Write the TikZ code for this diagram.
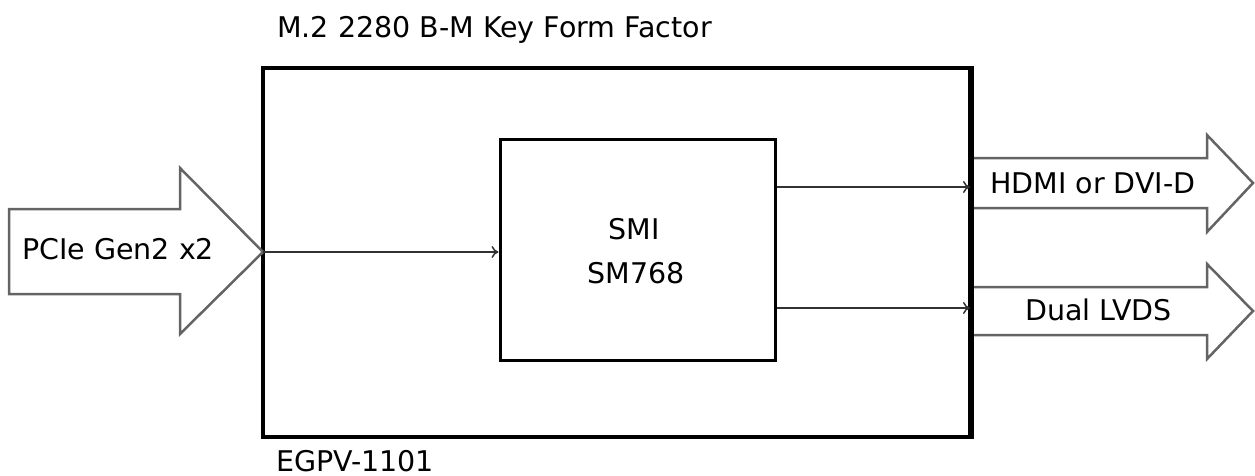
\documentclass[tikz,border=0pt]{standalone}
\usepackage{fontspec}
\setmainfont{DejaVu Sans}
\usetikzlibrary{arrows.meta}
\definecolor{arrowgray}{RGB}{100,100,100}
\definecolor{wiregray}{RGB}{50,50,50}
\begin{document}
\begin{tikzpicture}[x=1pt,y=-1pt,
  lbl/.style={inner sep=0pt,anchor=base west,font=\fontsize{28.5}{34}\selectfont},
  boxstyle/.style={draw=black,line width=3.5pt,minimum width=#1,inner sep=0pt},
  blockarrow/.style={draw=arrowgray,line width=2.5pt,fill=white,line join=miter},
  wire/.style={draw=wiregray,line width=2.5pt,-{To[length=7pt,width=12pt,line width=1.5pt]}}]
\useasboundingbox (0,0) rectangle (1255,476);
% outer board
\node[boxstyle=707pt,minimum height=369pt] (board) at (616.5,252.5) {};
% chip
\node[draw=black,line width=3pt,minimum width=275pt,minimum height=220pt,inner sep=0pt] (chip) at (637.5,250) {};
\node[inner sep=0pt,anchor=base,font=\fontsize{28.5}{34}\selectfont] (smi) at (634,239) {SMI};
\node[inner sep=0pt,anchor=base,font=\fontsize{28.5}{34}\selectfont] (sm768) at (636,283) {SM768};
% input block arrow
\draw[blockarrow] (9,209) -- (180,209) -- (180,168) -- (263,252) -- (180,334) -- (180,294) -- (9,294) -- cycle;
\coordinate (pcietip) at (263,252);
\node[lbl] (pcie) at (22,259) {PCIe Gen2 x2};
% output block arrows
\draw[blockarrow] (970,158) -- (1207,158) -- (1207,135) -- (1253,183) -- (1207,232) -- (1207,208) -- (970,208);
\coordinate (hdmitail) at (970,187);
\node[lbl] (hdmi) at (990,193) {HDMI or DVI-D};
\draw[blockarrow] (970,287) -- (1207,287) -- (1207,264) -- (1253,311) -- (1207,359) -- (1207,335) -- (970,335);
\coordinate (lvdstail) at (970,308);
\node[lbl] (lvds) at (1025,320) {Dual LVDS};
% redraw board right edge over arrow tails
\draw[black,line width=3.5pt] (board.north east) -- (board.south east);
% connectors
\draw[wire] (pcietip) -- (pcietip -| chip.west);
\draw[wire] (hdmitail -| chip.east) -- (hdmitail);
\draw[wire] (lvdstail -| chip.east) -- (lvdstail);
% labels
\node[lbl] (title) at (277,38) {M.2 2280 B-M Key Form Factor};
\node[lbl] (name) at (276,471) {EGPV-1101};
\end{tikzpicture}
\end{document}
